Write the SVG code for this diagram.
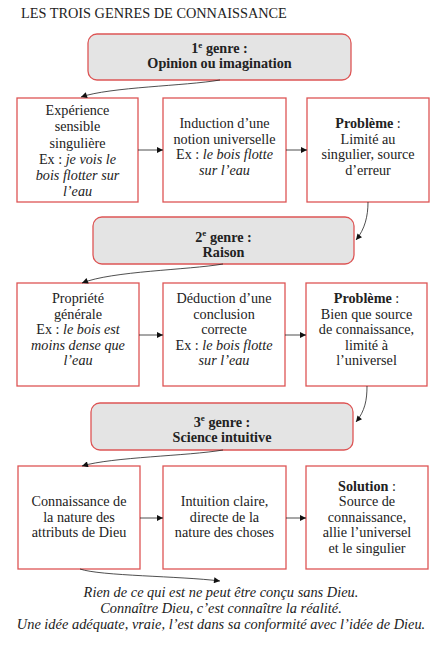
<svg xmlns="http://www.w3.org/2000/svg" width="448" height="654" viewBox="0 0 448 654" font-family="'Liberation Serif', 'Times New Roman', serif">
<defs>
<marker id="ah" viewBox="0 0 10 10" refX="10" refY="5" markerWidth="7" markerHeight="6" markerUnits="userSpaceOnUse" orient="auto">
<path d="M0,0 L10,5 L0,10 Z" fill="#111"/>
</marker>
<style>
text{font-family:"Liberation Serif","Times New Roman",serif;font-size:14.2px;fill:#222;text-anchor:middle}
.title{text-anchor:start;font-size:14.3px}
.genre rect{fill:#e4e4e4;stroke:#dd5555;stroke-width:1.3}
.genre text{font-weight:bold}
.box rect{fill:#fff;stroke:#dd5555;stroke-width:1.3}
.i{font-style:italic}
.b{font-weight:bold}
.sup{font-size:9px}
#connectors path{fill:none;stroke:#222;stroke-width:0.8;marker-end:url(#ah)}
.note{font-style:italic;font-size:14.4px}
</style>
</defs>
<rect width="448" height="654" fill="#fff"/>
<text class="title" x="21" y="18">LES TROIS GENRES DE CONNAISSANCE</text>

<g id="genre1" class="genre">
<rect x="88" y="34" width="263" height="46" rx="9"/>
<text x="219.5" y="52.5">1<tspan class="sup" dy="-5">e</tspan><tspan dy="5"> genre :</tspan></text>
<text x="219.5" y="68">Opinion ou imagination</text>
</g>
<g id="r1b1" class="box">
<rect x="17" y="98" width="121" height="104"/>
<text x="77.5" y="115">Expérience</text>
<text x="77.5" y="131">sensible</text>
<text x="77.5" y="147.5">singulière</text>
<text x="77.5" y="163.5">Ex : <tspan class="i">je vois le</tspan></text>
<text x="77.5" y="179.5" class="i">bois flotter sur</text>
<text x="77.5" y="195.5" class="i">l’eau</text>
</g>
<g id="r1b2" class="box">
<rect x="163" y="98" width="123" height="104"/>
<text x="224.5" y="128">Induction d’une</text>
<text x="224.5" y="143.5">notion universelle</text>
<text x="224.5" y="159">Ex : <tspan class="i">le bois flotte</tspan></text>
<text x="224.5" y="174.5" class="i">sur l’eau</text>
</g>
<g id="r1b3" class="box">
<rect x="307" y="98" width="122" height="104"/>
<text x="368" y="128"><tspan class="b">Problème</tspan> :</text>
<text x="368" y="143.5">Limité au</text>
<text x="368" y="159">singulier, source</text>
<text x="368" y="174.5">d’erreur</text>
</g>

<g id="genre2" class="genre">
<rect x="93" y="217" width="261" height="47" rx="9"/>
<text x="223.5" y="241.5">2<tspan class="sup" dy="-6">e</tspan><tspan dy="6"> genre :</tspan></text>
<text x="223.5" y="257">Raison</text>
</g>
<g id="r2b1" class="box">
<rect x="17" y="283" width="122" height="103"/>
<text x="78" y="303">Propriété</text>
<text x="78" y="318.5">générale</text>
<text x="78" y="334">Ex : <tspan class="i">le bois est</tspan></text>
<text x="78" y="349.5" class="i">moins dense que</text>
<text x="78" y="365" class="i">l’eau</text>
</g>
<g id="r2b2" class="box">
<rect x="163" y="283" width="122" height="103"/>
<text x="224" y="303">Déduction d’une</text>
<text x="224" y="318.5">conclusion</text>
<text x="224" y="334">correcte</text>
<text x="224" y="349.5">Ex : <tspan class="i">le bois flotte</tspan></text>
<text x="224" y="365" class="i">sur l’eau</text>
</g>
<g id="r2b3" class="box">
<rect x="306" y="283" width="121" height="103"/>
<text x="366.5" y="303"><tspan class="b">Problème</tspan> :</text>
<text x="366.5" y="318.5">Bien que source</text>
<text x="366.5" y="334">de connaissance,</text>
<text x="366.5" y="349.5">limité à</text>
<text x="366.5" y="365">l’universel</text>
</g>

<g id="genre3" class="genre">
<rect x="91" y="403" width="262" height="47" rx="9"/>
<text x="222" y="426.5">3<tspan class="sup" dy="-6">e</tspan><tspan dy="6"> genre :</tspan></text>
<text x="222" y="442">Science intuitive</text>
</g>
<g id="r3b1" class="box">
<rect x="18" y="466" width="122" height="103"/>
<text x="79" y="506">Connaissance de</text>
<text x="79" y="521.5">la nature des</text>
<text x="79" y="537">attributs de Dieu</text>
</g>
<g id="r3b2" class="box">
<rect x="163" y="466" width="123" height="103"/>
<text x="224.5" y="506">Intuition claire,</text>
<text x="224.5" y="521.5">directe de la</text>
<text x="224.5" y="537">nature des choses</text>
</g>
<g id="r3b3" class="box">
<rect x="306" y="466" width="122" height="103"/>
<text x="367" y="491"><tspan class="b">Solution</tspan> :</text>
<text x="367" y="506">Source de</text>
<text x="367" y="521.5">connaissance,</text>
<text x="367" y="537">allie l’universel</text>
<text x="367" y="552.5">et le singulier</text>
</g>

<g id="connectors">
<path d="M220,80 C185,86 110,87 81,97"/>
<path d="M138,150 L163,150"/>
<path d="M286,150 L307,150"/>
<path d="M368,202 C368,216 365,229 356,240"/>
<path d="M223,264 C188,270 112,271 82,283"/>
<path d="M139,335 L163,335"/>
<path d="M285,335 L306,335"/>
<path d="M367,386 C367,400 365,411 356,422"/>
<path d="M223,450 C188,456 112,457 82,466"/>
<path d="M140,518 L163,518"/>
<path d="M286,518 L306,518"/>
<path d="M80,569 C100,576 180,576 220,581"/>
</g>

<g id="note">
<text class="note" x="221" y="597">Rien de ce qui est ne peut être conçu sans Dieu.</text>
<text class="note" x="221" y="613">Connaître Dieu, c’est connaître la réalité.</text>
<text class="note" x="221" y="629">Une idée adéquate, vraie, l’est dans sa conformité avec l’idée de Dieu.</text>
</g>
</svg>
